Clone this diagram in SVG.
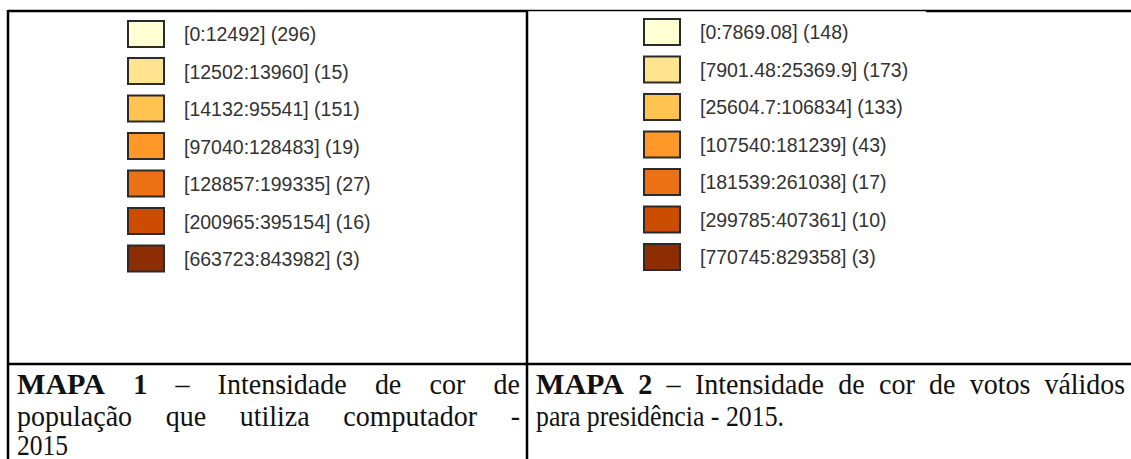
<svg xmlns="http://www.w3.org/2000/svg" width="1131" height="459" viewBox="0 0 1131 459">
<style>
.sw{stroke:#2b2b2b;stroke-width:2}
.lg{font-family:"Liberation Sans",Arial,sans-serif;font-size:19.5px;fill:#333}
.cap{font-family:"Liberation Serif","Times New Roman",serif;font-size:30px;fill:#111}
.b{font-weight:bold}
.ln{stroke:#000;stroke-width:2.5;fill:none}
</style>
<rect width="1131" height="459" fill="#fff"/>
<g id="frame">
<line class="ln" x1="8" y1="11" x2="527" y2="11"/>
<line x1="527" y1="10.5" x2="926" y2="10.5" stroke="#000" stroke-width="1.5"/>
<line class="ln" x1="926" y1="11" x2="1131" y2="11"/>
<line class="ln" x1="8" y1="10" x2="8" y2="459"/>
<line class="ln" x1="527" y1="10" x2="527" y2="459"/>
<line class="ln" x1="8" y1="364" x2="1131" y2="364"/>
</g>
<g id="legend1">
<rect class="sw" x="128" y="21" width="36" height="26" fill="#ffffd4"/>
<rect class="sw" x="128" y="58" width="36" height="26" fill="#fee391"/>
<rect class="sw" x="128" y="95.5" width="36" height="26" fill="#fec44f"/>
<rect class="sw" x="128" y="133" width="36" height="26" fill="#fe9929"/>
<rect class="sw" x="128" y="170.5" width="36" height="26" fill="#ec7014"/>
<rect class="sw" x="128" y="208" width="36" height="26" fill="#cc4c02"/>
<rect class="sw" x="128" y="245.5" width="36" height="26" fill="#8c2d04"/>
<text class="lg" x="184" y="41">[0:12492] (296)</text>
<text class="lg" x="184" y="78.5">[12502:13960] (15)</text>
<text class="lg" x="184" y="116">[14132:95541] (151)</text>
<text class="lg" x="184" y="153.5">[97040:128483] (19)</text>
<text class="lg" x="184" y="191">[128857:199335] (27)</text>
<text class="lg" x="184" y="228.5">[200965:395154] (16)</text>
<text class="lg" x="184" y="266">[663723:843982] (3)</text>
</g>
<g id="legend2">
<rect class="sw" x="644" y="19" width="36" height="26" fill="#ffffd4"/>
<rect class="sw" x="644" y="56.5" width="36" height="26" fill="#fee391"/>
<rect class="sw" x="644" y="94" width="36" height="26" fill="#fec44f"/>
<rect class="sw" x="644" y="131.5" width="36" height="26" fill="#fe9929"/>
<rect class="sw" x="644" y="169" width="36" height="26" fill="#ec7014"/>
<rect class="sw" x="644" y="206.5" width="36" height="26" fill="#cc4c02"/>
<rect class="sw" x="644" y="244" width="36" height="26" fill="#8c2d04"/>
<text class="lg" x="700" y="39">[0:7869.08] (148)</text>
<text class="lg" x="700" y="76.5">[7901.48:25369.9] (173)</text>
<text class="lg" x="700" y="114">[25604.7:106834] (133)</text>
<text class="lg" x="700" y="151.5">[107540:181239] (43)</text>
<text class="lg" x="700" y="189">[181539:261038] (17)</text>
<text class="lg" x="700" y="226.5">[299785:407361] (10)</text>
<text class="lg" x="700" y="264">[770745:829358] (3)</text>
</g>
<g id="caption1">
<text class="cap b" x="17" y="394" textLength="88" lengthAdjust="spacingAndGlyphs">MAPA</text>
<text class="cap b" x="133.2" y="394" textLength="14" lengthAdjust="spacingAndGlyphs">1</text>
<text class="cap" x="175.4" y="394" textLength="14" lengthAdjust="spacingAndGlyphs">–</text>
<text class="cap" x="217.6" y="394" textLength="129.1" lengthAdjust="spacingAndGlyphs">Intensidade</text>
<text class="cap" x="374.9" y="394" textLength="26.4" lengthAdjust="spacingAndGlyphs">de</text>
<text class="cap" x="429.5" y="394" textLength="35.8" lengthAdjust="spacingAndGlyphs">cor</text>
<text class="cap" x="493.5" y="394" textLength="26.4" lengthAdjust="spacingAndGlyphs">de</text>
<text class="cap" x="17" y="426" textLength="115.1" lengthAdjust="spacingAndGlyphs">população</text>
<text class="cap" x="165.7" y="426" textLength="40.4" lengthAdjust="spacingAndGlyphs">que</text>
<text class="cap" x="239.7" y="426" textLength="70" lengthAdjust="spacingAndGlyphs">utiliza</text>
<text class="cap" x="343.3" y="426" textLength="133.8" lengthAdjust="spacingAndGlyphs">computador</text>
<text class="cap" x="510.7" y="426" textLength="9.3" lengthAdjust="spacingAndGlyphs">-</text>
<text class="cap" x="17" y="455" textLength="51" lengthAdjust="spacingAndGlyphs">2015</text>
</g>
<g id="caption2">
<text class="cap b" x="536" y="394" textLength="88" lengthAdjust="spacingAndGlyphs">MAPA</text>
<text class="cap b" x="638.3" y="394" textLength="14" lengthAdjust="spacingAndGlyphs">2</text>
<text class="cap" x="666.6" y="394" textLength="14" lengthAdjust="spacingAndGlyphs">–</text>
<text class="cap" x="694.9" y="394" textLength="129.1" lengthAdjust="spacingAndGlyphs">Intensidade</text>
<text class="cap" x="838.3" y="394" textLength="26.4" lengthAdjust="spacingAndGlyphs">de</text>
<text class="cap" x="879" y="394" textLength="35.8" lengthAdjust="spacingAndGlyphs">cor</text>
<text class="cap" x="929.1" y="394" textLength="26.4" lengthAdjust="spacingAndGlyphs">de</text>
<text class="cap" x="969.8" y="394" textLength="60.7" lengthAdjust="spacingAndGlyphs">votos</text>
<text class="cap" x="1044.5" y="394" textLength="80.5" lengthAdjust="spacingAndGlyphs">válidos</text>
<text class="cap" x="536" y="426" textLength="248" lengthAdjust="spacingAndGlyphs">para presidência - 2015.</text>
</g>
</svg>
